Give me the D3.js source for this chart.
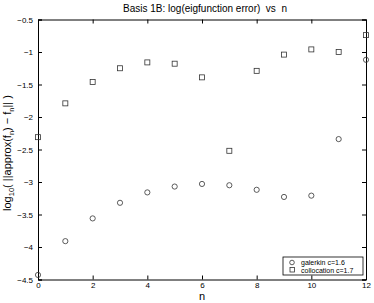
<!DOCTYPE html>
<html>
<head>
<script src="https://d3js.org/d3.v7.min.js"></script>
<style>
  body { margin: 0; background: #fff; }
  text { font-family: "Liberation Sans", Arial, sans-serif; fill: #000; white-space: pre; }
</style>
</head>
<body>
<svg id="chart" width="374" height="303"></svg>
<script>
// data
var nValues = [0, 1, 2, 3, 4, 5, 6, 7, 8, 9, 10, 11, 12];
var galerkin = [-4.43, -3.91, -3.56, -3.32, -3.16, -3.07, -3.03, -3.05, -3.12, -3.23, -3.21, -2.34, -1.12];
var collocation = [-2.31, -1.79, -1.46, -1.25, -1.16, -1.18, -1.39, -2.52, -1.29, -1.04, -0.96, -1.0, -0.74];
var xTicks = [0, 2, 4, 6, 8, 10, 12];
var yTicks = [-0.5, -1, -1.5, -2, -2.5, -3, -3.5, -4, -4.5];
var seriesNames = ["galerkin c=1.6", "collocation c=1.7"];

var margin = { top: 19.5, right: 8, bottom: 23.5, left: 38 };
var width = 374 - margin.left - margin.right;
var height = 303 - margin.top - margin.bottom;

var svg = d3.select("#chart");
var g = svg.append("g")
  .attr("transform", "translate(" + margin.left + "," + margin.top + ")");

var x = d3.scaleLinear().domain([0, 12]).range([0, width]);
var y = d3.scaleLinear().domain([-4.5, -0.5]).range([height, 0]);

var fmt = function(d) { return String(d).replace("-", "\u2212"); };

// axes, ticks pointing inwards like matlab
g.append("g")
  .attr("transform", "translate(0," + height + ")")
  .call(d3.axisBottom(x).tickValues(xTicks).tickSize(-4).tickPadding(3).tickFormat(fmt));
g.append("g")
  .call(d3.axisTop(x).tickValues(xTicks).tickSize(-4).tickFormat(""));
g.append("g")
  .call(d3.axisLeft(y).tickValues(yTicks).tickSize(-4).tickPadding(5).tickFormat(fmt));
g.append("g")
  .attr("transform", "translate(" + width + ",0)")
  .call(d3.axisRight(y).tickValues(yTicks).tickSize(-4).tickFormat(""));

g.selectAll(".domain").attr("stroke", "#000").attr("stroke-width", 1);
g.selectAll(".tick line").attr("stroke", "#000");
g.selectAll(".tick text").attr("font-size", 8).attr("font-family", "Liberation Sans, Arial, sans-serif");

// galerkin circles
g.selectAll(".gal")
  .data(nValues)
  .enter().append("circle")
  .attr("class", "gal")
  .attr("cx", function(d) { return x(d); })
  .attr("cy", function(d, i) { return y(galerkin[i]); })
  .attr("r", 2.6)
  .attr("fill", "none")
  .attr("stroke", "#333")
  .attr("stroke-width", 0.8);

// collocation squares
g.selectAll(".col")
  .data(nValues)
  .enter().append("rect")
  .attr("class", "col")
  .attr("x", function(d) { return x(d) - 2.5; })
  .attr("y", function(d, i) { return y(collocation[i]) - 2.5; })
  .attr("width", 5)
  .attr("height", 5)
  .attr("fill", "none")
  .attr("stroke", "#333")
  .attr("stroke-width", 0.8);

// title and labels
svg.append("text")
  .attr("x", 205)
  .attr("y", 12)
  .attr("text-anchor", "middle")
  .attr("font-size", 10)
  .text("Basis 1B: log(eigfunction error)  vs  n");

svg.append("text")
  .attr("x", margin.left + width / 2)
  .attr("y", 300)
  .attr("text-anchor", "middle")
  .attr("font-size", 11)
  .text("n");

var yl = svg.append("text")
  .attr("transform", "translate(11,153) rotate(-90)")
  .attr("text-anchor", "middle")
  .attr("font-size", 11);
yl.append("tspan").text("log");
yl.append("tspan").attr("font-size", 7.5).attr("dy", 3).text("10");
yl.append("tspan").attr("dy", -3).text("( ||approx(f");
yl.append("tspan").attr("font-size", 7.5).attr("dy", 3).text("n");
yl.append("tspan").attr("dy", -3).text(") \u2212 f");
yl.append("tspan").attr("font-size", 7.5).attr("dy", 3).text("n");
yl.append("tspan").attr("dy", -3).text("|| )");

// legend
var legend = svg.append("g").attr("transform", "translate(283,257)");
legend.append("rect")
  .attr("width", 80).attr("height", 18)
  .attr("fill", "#fff").attr("stroke", "#000").attr("stroke-width", 0.8);
legend.append("circle")
  .attr("cx", 9).attr("cy", 5.5).attr("r", 2.3)
  .attr("fill", "none").attr("stroke", "#333").attr("stroke-width", 0.8);
legend.append("rect")
  .attr("x", 7).attr("y", 10.5).attr("width", 4.5).attr("height", 4.5)
  .attr("fill", "none").attr("stroke", "#333").attr("stroke-width", 0.8);
legend.selectAll(".lt")
  .data(seriesNames)
  .enter().append("text")
  .attr("x", 18)
  .attr("y", function(d, i) { return 8 + i * 7.5; })
  .attr("font-size", 7)
  .text(function(d) { return d; });
</script>
</body>
</html>
